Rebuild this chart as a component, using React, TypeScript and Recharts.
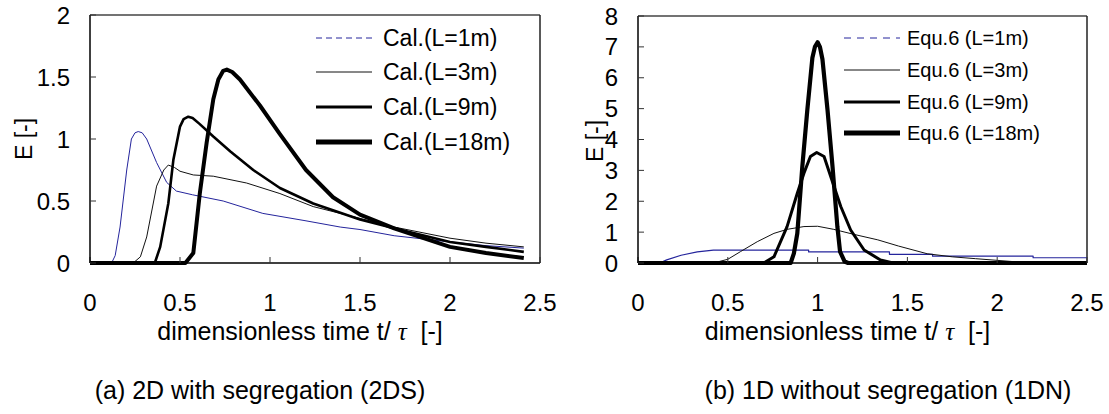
import { LineChart, Line, XAxis, YAxis, ReferenceLine, Legend, Label } from 'recharts';

const FONT = '"Liberation Sans", Arial, Helvetica, sans-serif';

// (a) 2D with segregation — calculated E curves
const calL1Time = [0, 0.12, 0.14, 0.167, 0.204, 0.23, 0.25, 0.268, 0.29, 0.315, 0.37, 0.426, 0.48, 0.57, 0.74, 0.96, 1.2, 1.39, 1.5, 1.69, 2.0, 2.2, 2.41];
const calL1E = [0, 0, 0.06, 0.29, 0.75, 1.0, 1.05, 1.06, 1.05, 1.0, 0.81, 0.65, 0.58, 0.55, 0.5, 0.4, 0.34, 0.29, 0.27, 0.22, 0.17, 0.14, 0.12];

const calL3Time = [0, 0.24, 0.28, 0.315, 0.37, 0.41, 0.435, 0.47, 0.5, 0.574, 0.685, 0.87, 1.055, 1.24, 1.5, 1.69, 2.0, 2.2, 2.41];
const calL3E = [0, 0, 0.05, 0.21, 0.62, 0.75, 0.79, 0.77, 0.74, 0.71, 0.7, 0.645, 0.56, 0.455, 0.36, 0.29, 0.2, 0.16, 0.13];

const calL9Time = [0, 0.36, 0.39, 0.435, 0.463, 0.5, 0.52, 0.546, 0.57, 0.61, 0.685, 0.78, 0.907, 1.055, 1.24, 1.5, 1.69, 2.0, 2.2, 2.41];
const calL9E = [0, 0, 0.13, 0.48, 0.83, 1.1, 1.16, 1.18, 1.17, 1.12, 1.02, 0.9, 0.75, 0.605, 0.48, 0.35, 0.28, 0.17, 0.13, 0.09];

const calL18Time = [0, 0.53, 0.574, 0.61, 0.648, 0.685, 0.713, 0.74, 0.76, 0.79, 0.833, 0.944, 1.055, 1.2, 1.35, 1.5, 1.69, 2.0, 2.2, 2.41];
const calL18E = [0, 0, 0.08, 0.56, 0.97, 1.32, 1.48, 1.55, 1.56, 1.54, 1.48, 1.27, 1.04, 0.75, 0.53, 0.39, 0.28, 0.13, 0.08, 0.04];

// (b) 1D without segregation — Equ.6 curves
const equL1Time = [0, 0.12, 0.16, 0.24, 0.33, 0.42, 0.95, 0.95, 1.4, 1.4, 1.64, 1.64, 2.2, 2.2, 2.5];
const equL1E = [0, 0, 0.1, 0.25, 0.36, 0.42, 0.42, 0.36, 0.36, 0.28, 0.28, 0.22, 0.22, 0.17, 0.17];

const equL3Time = [0, 0.42, 0.5, 0.571, 0.664, 0.757, 0.83, 0.924, 1.0, 1.09, 1.2, 1.335, 1.45, 1.61, 1.75, 1.88, 2.1, 2.2, 2.5];
const equL3E = [0, 0, 0.12, 0.37, 0.69, 0.96, 1.09, 1.18, 1.19, 1.09, 0.93, 0.75, 0.55, 0.3, 0.2, 0.14, 0.04, 0, 0];

const equL9Time = [0, 0.7, 0.757, 0.83, 0.887, 0.924, 0.96, 0.995, 1.036, 1.073, 1.129, 1.184, 1.259, 1.35, 1.42, 2.5];
const equL9E = [0, 0, 0.2, 1.18, 2.26, 2.91, 3.45, 3.58, 3.45, 2.8, 1.83, 1.07, 0.42, 0.1, 0, 0];

const equL18Time = [0, 0.85, 0.868, 0.887, 0.915, 0.943, 0.971, 0.985, 1.0, 1.013, 1.027, 1.055, 1.083, 1.11, 1.125, 1.15, 1.17, 2.5];
const equL18E = [0, 0, 0.31, 0.96, 3.13, 4.97, 6.65, 7.0, 7.15, 7.0, 6.6, 4.97, 3.13, 1.18, 0.37, 0.05, 0, 0];

const xTicks = [0, 0.5, 1, 1.5, 2, 2.5];
const yTicksA = [0, 0.5, 1, 1.5, 2];
const yTicksB = [0, 1, 2, 3, 4, 5, 6, 7, 8];

const namesA = ['Cal.(L=1m)', 'Cal.(L=3m)', 'Cal.(L=9m)', 'Cal.(L=18m)'];
const namesB = ['Equ.6 (L=1m)', 'Equ.6 (L=3m)', 'Equ.6 (L=9m)', 'Equ.6 (L=18m)'];

const toPts = (t: number[], e: number[]) => t.map((v, i) => ({ t: v, e: e[i] }));

type Series = {
  name: string;
  data: { t: number; e: number }[];
  color: string;
  width: number;
  legendWidth: number;
  legendDash?: string;
};

const BLUE = '#24249c';

const seriesA: Series[] = [
  { name: namesA[0], data: toPts(calL1Time, calL1E), color: BLUE, width: 1, legendWidth: 1, legendDash: '6 4' },
  { name: namesA[1], data: toPts(calL3Time, calL3E), color: '#111', width: 1, legendWidth: 1 },
  { name: namesA[2], data: toPts(calL9Time, calL9E), color: '#000', width: 2.6, legendWidth: 3 },
  { name: namesA[3], data: toPts(calL18Time, calL18E), color: '#000', width: 4, legendWidth: 5 },
];

const seriesB: Series[] = [
  { name: namesB[0], data: toPts(equL1Time, equL1E), color: BLUE, width: 1.2, legendWidth: 1, legendDash: '7 6' },
  { name: namesB[1], data: toPts(equL3Time, equL3E), color: '#111', width: 1, legendWidth: 1 },
  { name: namesB[2], data: toPts(equL9Time, equL9E), color: '#000', width: 3, legendWidth: 3 },
  { name: namesB[3], data: toPts(equL18Time, equL18E), color: '#000', width: 4.2, legendWidth: 5 },
];

type PanelProps = {
  series: Series[];
  width: number;
  yWidth: number;
  marginTop: number;
  marginRight: number;
  yMax: number;
  yTicks: number[];
  legendLeft: number;
  legendRows: number[];
  legendFont: number;
  lineLen: number;
  textGap: number;
  yLabelX: number;
  yLabelY: number;
};

function Panel(p: PanelProps) {
  const legendContent = () => (
    <svg width={230} height={160} style={{ display: 'block', overflow: 'visible' }}>
      {p.series.map((s, i) => (
        <g key={s.name}>
          <line
            x1={0}
            x2={p.lineLen}
            y1={p.legendRows[i]}
            y2={p.legendRows[i]}
            stroke={s.color}
            strokeWidth={s.legendWidth}
            strokeDasharray={s.legendDash}
          />
          <text
            x={p.lineLen + p.textGap}
            y={p.legendRows[i]}
            dominantBaseline="central"
            fontSize={p.legendFont}
            fontFamily={FONT}
            fill="#000"
          >
            {s.name}
          </text>
        </g>
      ))}
    </svg>
  );

  return (
    <LineChart
      width={p.width}
      height={345}
      margin={{ top: p.marginTop, right: p.marginRight, bottom: 0, left: 0 }}
    >
      <XAxis
        type="number"
        dataKey="t"
        domain={[0, 2.5]}
        ticks={xTicks}
        interval={0}
        height={82}
        tickSize={-6}
        tickMargin={37}
        axisLine={{ stroke: '#000', strokeWidth: 1.5 }}
        tickLine={{ stroke: '#333' }}
        tick={{ fontSize: 24, fontFamily: FONT, fill: '#000' }}
        allowDuplicatedCategory={false}
      >
        <Label
          content={({ viewBox }: any) => (
            <text
              x={viewBox.x + viewBox.width / 2 - 15}
              y={viewBox.y + 77}
              textAnchor="middle"
              fontSize={25}
              fontFamily={FONT}
              fill="#000"
              style={{ whiteSpace: 'pre' }}
            >
              {'dimensionless time t/ '}
              <tspan fontFamily='"Liberation Serif", serif' fontStyle="italic">τ</tspan>
              {'  [-]'}
            </text>
          )}
        />
      </XAxis>
      <YAxis
        type="number"
        domain={[0, p.yMax]}
        ticks={p.yTicks}
        interval={0}
        width={p.yWidth}
        tickSize={-6}
        tickMargin={26}
        axisLine={{ stroke: '#000', strokeWidth: 1.5 }}
        tickLine={{ stroke: '#333' }}
        tick={{ fontSize: 24, fontFamily: FONT, fill: '#000' }}
      >
        <Label
          content={() => (
            <text
              x={p.yLabelX}
              y={p.yLabelY}
              transform={`rotate(-90 ${p.yLabelX} ${p.yLabelY})`}
              textAnchor="middle"
              dominantBaseline="central"
              fontSize={23}
              fontFamily={FONT}
              fill="#000"
            >
              E [-]
            </text>
          )}
        />
      </YAxis>
      <ReferenceLine y={p.yMax} stroke="#444" strokeWidth={1.5} />
      <ReferenceLine x={2.5} stroke="#222" strokeWidth={1.5} />
      <Legend
        layout="vertical"
        align="center"
        verticalAlign="middle"
        content={legendContent}
        wrapperStyle={{ left: p.legendLeft, top: 0, bottom: 'auto', right: 'auto', width: 230, height: 160 }}
      />
      {p.series.map((s) => (
        <Line
          key={s.name}
          name={s.name}
          data={s.data}
          dataKey="e"
          type="linear"
          stroke={s.color}
          strokeWidth={s.width}
          strokeLinejoin="round"
          dot={false}
          activeDot={false}
          isAnimationActive={false}
        />
      ))}
    </LineChart>
  );
}

const captionStyle: React.CSSProperties = {
  position: 'absolute',
  top: 375,
  fontSize: 25,
  fontFamily: FONT,
  color: '#000',
  whiteSpace: 'nowrap',
  transform: 'translateX(-50%)',
  lineHeight: '30px',
};

export default function App() {
  return (
    <div style={{ position: 'absolute', left: 0, top: 0, width: 1109, height: 414, background: '#fff', overflow: 'hidden' }}>
      <div style={{ position: 'absolute', left: 0, top: 0 }}>
        <Panel
          series={seriesA}
          width={560}
          yWidth={90}
          marginTop={15}
          marginRight={20}
          yMax={2}
          yTicks={yTicksA}
          legendLeft={316}
          legendRows={[38, 72, 107, 142]}
          legendFont={23}
          lineLen={56}
          textGap={11}
          yLabelX={24}
          yLabelY={139}
        />
      </div>
      <div style={{ position: 'absolute', left: 560, top: 0 }}>
        <Panel
          series={seriesB}
          width={549}
          yWidth={78}
          marginTop={16}
          marginRight={22}
          yMax={8}
          yTicks={yTicksB}
          legendLeft={284}
          legendRows={[38, 70, 102, 133]}
          legendFont={20}
          lineLen={56}
          textGap={7}
          yLabelX={35}
          yLabelY={141}
        />
      </div>
      <div style={{ ...captionStyle, left: 260 }}>(a) 2D with segregation (2DS)</div>
      <div style={{ ...captionStyle, left: 888 }}>(b) 1D without segregation (1DN)</div>
    </div>
  );
}
